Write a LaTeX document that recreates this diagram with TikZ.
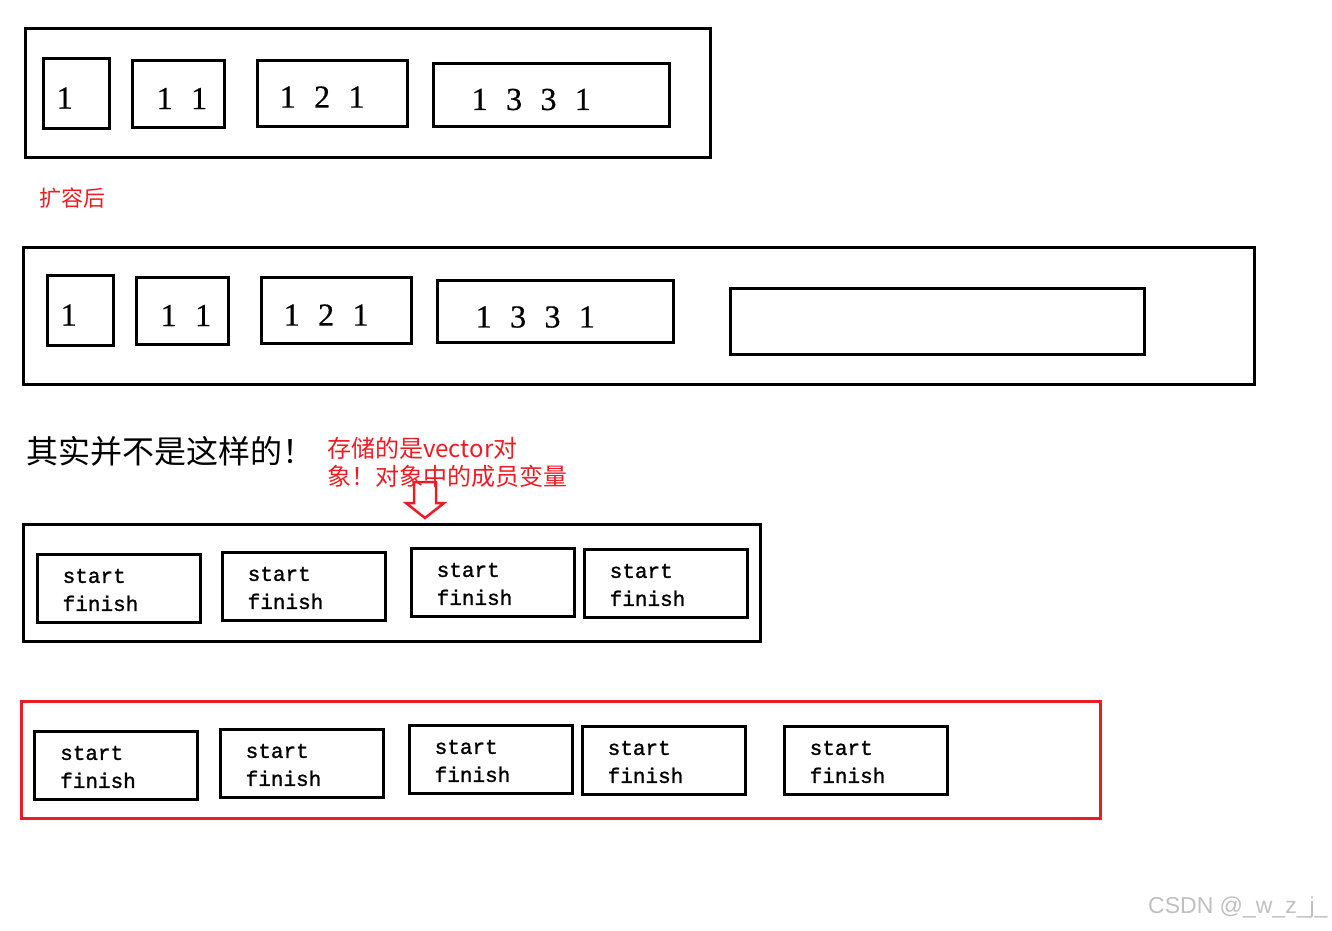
\documentclass[tikz,border=0pt]{standalone}
\usepackage{fontspec}
\setmainfont{Liberation Serif}
\newfontfamily\cjkfont{Noto Sans CJK SC}
\newfontfamily\numfont[WordSpace=2.3, FakeBold=0.6]{Liberation Serif}
\newfontfamily\codefont[FakeBold=1.2]{Liberation Mono}
\newfontfamily\wmfont{Liberation Sans}
\usepackage{tikz}
\usetikzlibrary{positioning}
\definecolor{hotred}{RGB}{237,28,36}

\begin{document}
\begin{tikzpicture}[
  x=1pt, y=-1pt,
  frame/.style={draw, line width=3pt, inner sep=0pt},
  cell/.style={draw, line width=3pt, inner sep=0pt},
  num/.style={font=\numfont\fontsize{32}{36}\selectfont, inner sep=0pt},
  pair/.style={font=\codefont\fontsize{21}{28}\selectfont, align=left, inner sep=0pt},
  note/.style={font=\cjkfont\fontsize{24}{28}\selectfont, text=hotred, align=left, inner sep=0pt}
]
\useasboundingbox (0,0) rectangle (1332,930);

\node[frame, minimum width=685, minimum height=129] (old) at (367.5,92.5) {};
\node[cell, minimum width=66, minimum height=70] (a1) at (76,93) {};
\node[cell, minimum width=92, minimum height=67] (a2) at (178,93.5) {};
\node[cell, minimum width=150, minimum height=66] (a3) at (332,93) {};
\node[cell, minimum width=236, minimum height=63] (a4) at (551,94.5) {};
\node[num, right=15pt of a1.west, yshift=-5pt] (a1-txt) {1};
\node[num, right=26pt of a2.west, yshift=-5pt] (a2-txt) {1 1};
\node[num, right=24pt of a3.west, yshift=-4pt] (a3-txt) {1 2 1};
\node[num, right=40pt of a4.west, yshift=-5pt] (a4-txt) {1 3 3 1};

\node[font=\cjkfont\fontsize{22}{24}\selectfont, text=hotred, anchor=west, inner sep=0pt] (grown) at (39,198) {扩容后};

\node[frame, minimum width=1231, minimum height=137] (new) at (638.5,315.5) {};
\node[cell, minimum width=66, minimum height=70] (b1) at (80,310) {};
\node[cell, minimum width=92, minimum height=67] (b2) at (182,310.5) {};
\node[cell, minimum width=150, minimum height=66] (b3) at (336,310) {};
\node[cell, minimum width=236, minimum height=62] (b4) at (555,311) {};
\node[cell, minimum width=414, minimum height=66] (b5) at (937,321) {};
\node[num, right=15pt of b1.west, yshift=-5pt] (b1-txt) {1};
\node[num, right=26pt of b2.west, yshift=-5pt] (b2-txt) {1 1};
\node[num, right=24pt of b3.west, yshift=-5pt] (b3-txt) {1 2 1};
\node[num, right=40pt of b4.west, yshift=-6pt] (b4-txt) {1 3 3 1};

\node[font=\cjkfont\fontsize{32}{36}\selectfont, anchor=west, inner sep=0pt] (claim) at (26,451) {其实并不是这样的！};
\node[note, anchor=west] (why) at (327,462) {存储的是vector对\\象！对象中的成员变量};
\draw[hotred, line width=2.5pt, line join=miter]
  (414,482) -- (436,482) -- (436,503) -- (444,503) -- (425,518) -- (406,503) -- (414,503) -- cycle;

\node[frame, minimum width=737, minimum height=117] (vec) at (391.5,582.5) {};
\node[cell, minimum width=163, minimum height=68] (c1) at (118.5,588) {};
\node[cell, minimum width=163, minimum height=68] (c2) at (303.5,586) {};
\node[cell, minimum width=163, minimum height=68] (c3) at (492.5,582) {};
\node[cell, minimum width=163, minimum height=68] (c4) at (665.5,583) {};
\node[pair, right=27pt of c1.west, yshift=-2pt] (c1-txt) {start\\finish};
\node[pair, right=27pt of c2.west, yshift=-2pt] (c2-txt) {start\\finish};
\node[pair, right=27pt of c3.west, yshift=-2pt] (c3-txt) {start\\finish};
\node[pair, right=27pt of c4.west, yshift=-2pt] (c4-txt) {start\\finish};

\node[frame, draw=hotred, minimum width=1079, minimum height=117] (vecnew) at (560.5,759.5) {};
\node[cell, minimum width=163, minimum height=68] (d1) at (116,765) {};
\node[cell, minimum width=163, minimum height=68] (d2) at (301.5,763) {};
\node[cell, minimum width=163, minimum height=68] (d3) at (490.5,759) {};
\node[cell, minimum width=163, minimum height=68] (d4) at (663.5,760) {};
\node[cell, minimum width=163, minimum height=68] (d5) at (865.5,760) {};
\node[pair, right=27pt of d1.west, yshift=-2pt] (d1-txt) {start\\finish};
\node[pair, right=27pt of d2.west, yshift=-2pt] (d2-txt) {start\\finish};
\node[pair, right=27pt of d3.west, yshift=-2pt] (d3-txt) {start\\finish};
\node[pair, right=27pt of d4.west, yshift=-2pt] (d4-txt) {start\\finish};
\node[pair, right=27pt of d5.west, yshift=-2pt] (d5-txt) {start\\finish};

\node[font=\wmfont\fontsize{23}{26}\selectfont, text=black!25, anchor=west, inner sep=0pt] (wm) at (1148,908) {CSDN @\_w\_z\_j\_};
\end{tikzpicture}
\end{document}
